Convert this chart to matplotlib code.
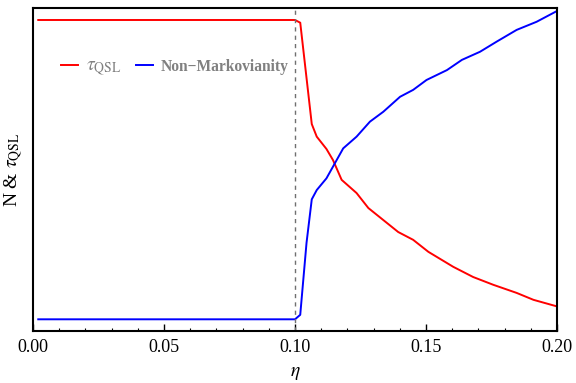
import matplotlib.pyplot as plt
from matplotlib.ticker import MultipleLocator

plt.rcParams['font.family'] = ['Liberation Serif', 'DejaVu Serif']
plt.rcParams['mathtext.fontset'] = 'stix'

# tau_QSL (normalised)
eta_tau = [0.002, 0.1, 0.102, 0.1064, 0.1083, 0.112, 0.1145, 0.1178, 0.1235,
           0.128, 0.1337, 0.1394, 0.1451, 0.1509, 0.1604, 0.168, 0.1757,
           0.1846, 0.191, 0.2]
tau_qsl = [1.0, 1.0, 0.991, 0.653, 0.611, 0.57, 0.533, 0.467, 0.423,
           0.373, 0.333, 0.293, 0.267, 0.227, 0.177, 0.143, 0.117,
           0.09, 0.067, 0.045]

# non-Markovianity (normalised)
eta_nm = [0.002, 0.1, 0.102, 0.1044, 0.1064, 0.1083, 0.112, 0.1152, 0.1184,
          0.1235, 0.1286, 0.1337, 0.1401, 0.1451, 0.1502, 0.158, 0.1637,
          0.1706, 0.177, 0.1846, 0.1922, 0.2]
non_mark = [0.002, 0.002, 0.017, 0.257, 0.402, 0.433, 0.472, 0.522, 0.572,
            0.611, 0.661, 0.694, 0.744, 0.767, 0.8, 0.833, 0.867,
            0.894, 0.928, 0.967, 0.994, 1.03]

fig = plt.figure(figsize=(5.76, 3.83), dpi=100)
ax = fig.add_axes([33/576, 1 - 331/383, 524/576, 323/383])

ax.plot(eta_tau, tau_qsl, color='#ff0000', lw=1.4, label=r'$\tau_{\mathrm{QSL}}$')
ax.plot(eta_nm, non_mark, color='#0000ff', lw=1.4, label='Non\u2212Markovianity')
ax.axvline(0.1, color='#707070', ls=(0, (3, 3)), lw=1.0)

ax.set_xlim(0, 0.2)
ax.set_ylim(-0.037, 1.04)
ax.xaxis.set_major_locator(MultipleLocator(0.05))
ax.xaxis.set_minor_locator(MultipleLocator(0.01))
ax.xaxis.set_major_formatter(plt.FuncFormatter(lambda v, p: f'{v:.2f}'))
ax.tick_params(axis='x', which='major', direction='in', length=5, width=1,
               labelsize=13, pad=6)
ax.tick_params(axis='x', which='minor', direction='in', length=2.5, width=0.8)
ax.tick_params(axis='y', left=False, labelleft=False)
for s in ax.spines.values():
    s.set_linewidth(1.5)

ax.set_xlabel(r'$\eta$', fontsize=14, labelpad=6)
ax.set_ylabel(r'N & $\tau_{\mathrm{QSL}}$', fontsize=14, labelpad=6)

leg = ax.legend(loc='upper left', bbox_to_anchor=(0.042, 0.865), ncol=2,
                frameon=False, handlelength=1.1, handletextpad=0.5,
                columnspacing=0.9, borderaxespad=0,
                prop={'weight': 'bold', 'size': 11.2})
for t in leg.get_texts():
    t.set_color('#808080')
leg.get_texts()[0].set_fontsize(14)

fig.savefig('out.png', dpi=100)
